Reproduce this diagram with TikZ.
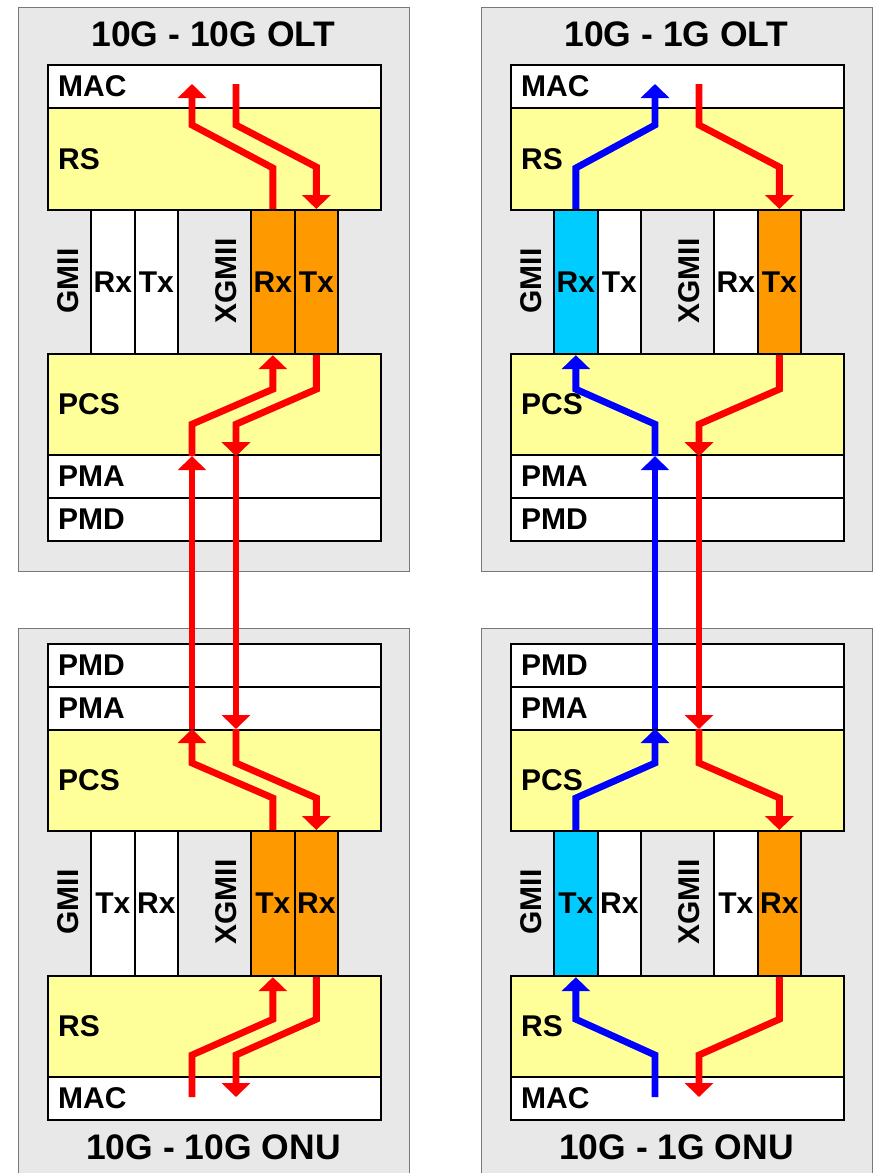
\documentclass[tikz,border=0pt]{standalone}
\usepackage{fontspec}
\setmainfont{Liberation Sans}
\usetikzlibrary{arrows.meta}
\definecolor{panelgray}{RGB}{232,232,232}
\definecolor{panelborder}{RGB}{120,120,120}
\definecolor{layeryellow}{RGB}{255,255,153}
\definecolor{iforange}{RGB}{255,153,0}
\definecolor{ifcyan}{RGB}{0,204,255}
\definecolor{flowred}{RGB}{255,0,0}
\definecolor{flowblue}{RGB}{0,0,255}
\newcommand\lblfont{\fontsize{30}{31}\selectfont\bfseries}
\newcommand\ttlfont{\fontsize{35.5}{36}\selectfont\bfseries}
\tikzset{
  panel/.style={draw=panelborder, line width=1pt, fill=panelgray, rectangle, inner sep=0pt, anchor=north west},
  layer/.style={draw=black, line width=2.2pt, rectangle, inner xsep=10pt, inner ysep=0pt,
    minimum width=333pt, text width=313pt, align=left, font=\lblfont, anchor=north west},
  ifcol/.style={draw=black, line width=2.2pt, rectangle, inner sep=0pt, minimum width=43.5pt,
    minimum height=144pt, anchor=north west, font=\lblfont},
  ttl/.style={font=\ttlfont, inner sep=0pt},
  iflbl/.style={font=\lblfont, rotate=90, inner sep=0pt},
  flow/.style={line width=6.8pt, -{Triangle[width=28pt,length=14pt]}},
}
% #1 prefix, #2 xshift, #3 title, #4..#7 fills of GMII Rx, GMII Tx, XGMII Rx, XGMII Tx
\newcommand\oltstack[7]{%
  \begin{scope}[xshift=#2]
    \node[panel, minimum width=391pt, minimum height=564pt] (#1box) at (18,7) {};
    \node[ttl] (#1title) at (213.5,34) {#3};
    \node[layer, fill=white, minimum height=43pt] (#1mac) at (47,64) {MAC};
    \node[layer, fill=layeryellow, minimum height=102pt] (#1rs) at (47,107) {RS};
    \node[ifcol, fill=#4] (#1g1) at (90,209) {Rx};
    \node[ifcol, fill=#5] (#1g2) at (133.5,209) {Tx};
    \node[ifcol, fill=#6] (#1x1) at (250,209) {Rx};
    \node[ifcol, fill=#7] (#1x2) at (293.5,209) {Tx};
    \node[iflbl] (#1gl) at (68,281) {GMII};
    \node[iflbl] (#1xl) at (226,281) {XGMII};
    \node[layer, fill=layeryellow, minimum height=101pt] (#1pcs) at (47,353) {PCS};
    \node[layer, fill=white, minimum height=43pt] (#1pma) at (47,454) {PMA};
    \node[layer, fill=white, minimum height=43pt] (#1pmd) at (47,497) {PMD};
  \end{scope}}
% #1 prefix, #2 xshift, #3 title, #4..#7 fills of GMII Tx, GMII Rx, XGMII Tx, XGMII Rx
\newcommand\onustack[7]{%
  \begin{scope}[xshift=#2]
    \node[panel, minimum width=391pt, minimum height=560pt] (#1box) at (18,628) {};
    \node[layer, fill=white, minimum height=43pt] (#1pmd) at (47,643) {PMD};
    \node[layer, fill=white, minimum height=43pt] (#1pma) at (47,686) {PMA};
    \node[layer, fill=layeryellow, minimum height=101pt] (#1pcs) at (47,729) {PCS};
    \node[ifcol, fill=#4, minimum height=145pt] (#1g1) at (90,830) {Tx};
    \node[ifcol, fill=#5, minimum height=145pt] (#1g2) at (133.5,830) {Rx};
    \node[ifcol, fill=#6, minimum height=145pt] (#1x1) at (250,830) {Tx};
    \node[ifcol, fill=#7, minimum height=145pt] (#1x2) at (293.5,830) {Rx};
    \node[iflbl] (#1gl) at (68,902) {GMII};
    \node[iflbl] (#1xl) at (226,902) {XGMII};
    \node[layer, fill=layeryellow, minimum height=101pt] (#1rs) at (47,975) {RS};
    \node[layer, fill=white, minimum height=43pt] (#1mac) at (47,1076) {MAC};
    \node[ttl] (#1title) at (213.5,1147) {#3};
  \end{scope}}
% #1 OLT prefix, #2 ONU prefix, #3 x of lane a, #4 x of lane b,
% #5 up column, #6 down column, #7 up colour, #8 down colour
\newcommand\flows[8]{%
  \coordinate (#1macin) at (#3,84);
  \coordinate (#1macout) at (#4,84);
  \coordinate (#2macout) at (#3,1097);
  \coordinate (#2macin) at (#4,1097);
  \coordinate (#1pcsup) at (#1pcs.south -| #1macin);
  \coordinate (#1pcsdn) at (#1pcs.south -| #1macout);
  \coordinate (#2pcsup) at (#2pcs.north -| #1macin);
  \coordinate (#2pcsdn) at (#2pcs.north -| #1macout);
  % upstream
  \draw[flow, draw=#7] (#2macout) -- ++(0,-42) -- ([yshift=-42pt]#2#5.south) -- (#2#5.south);
  \draw[flow, draw=#7] (#2#5.north) -- ++(0,-32) -- ([yshift=-34pt]#2pcsup) -- (#2pcsup);
  \draw[flow, draw=#7] (#2pcsup) -- (#1pcsup);
  \draw[flow, draw=#7] (#1pcsup) -- ++(0,-32) -- ([yshift=-34pt]#1#5.south) -- (#1#5.south);
  \draw[flow, draw=#7] (#1#5.north) -- ++(0,-41) -- ([yshift=-41pt]#1macin) -- (#1macin);
  % downstream
  \draw[flow, draw=#8] (#1macout) -- ++(0,41) -- ([yshift=42pt]#1#6.north) -- (#1#6.north);
  \draw[flow, draw=#8] (#1#6.south) -- ++(0,34) -- ([yshift=32pt]#1pcsdn) -- (#1pcsdn);
  \draw[flow, draw=#8] (#1pcsdn) -- (#2pcsdn);
  \draw[flow, draw=#8] (#2pcsdn) -- ++(0,34) -- ([yshift=32pt]#2#6.north) -- (#2#6.north);
  \draw[flow, draw=#8] (#2#6.south) -- ++(0,42) -- ([yshift=42pt]#2macin) -- (#2macin);
}
\begin{document}
\begin{tikzpicture}[x=1pt,y=-1pt]
  \useasboundingbox (0,0) rectangle (873,1173);
  \oltstack{A}{0pt}{10G - 10G OLT}{white}{white}{iforange}{iforange}
  \oltstack{B}{463pt}{10G - 1G OLT}{ifcyan}{white}{white}{iforange}
  \onustack{C}{0pt}{10G - 10G ONU}{white}{white}{iforange}{iforange}
  \onustack{D}{463pt}{10G - 1G ONU}{ifcyan}{white}{white}{iforange}
  \flows{A}{C}{192}{236}{x1}{x2}{flowred}{flowred}
  \flows{B}{D}{655}{699}{g1}{x2}{flowblue}{flowred}
\end{tikzpicture}
\end{document}
